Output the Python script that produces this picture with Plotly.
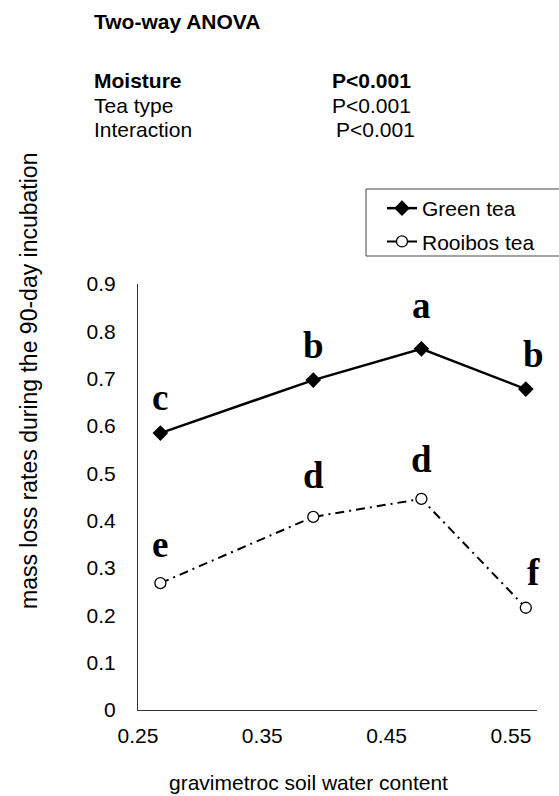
import plotly.graph_objects as go

# ---- data ----
water_content = [0.268, 0.391, 0.478, 0.562]
green_tea = [0.585, 0.697, 0.763, 0.678]
rooibos_tea = [0.268, 0.408, 0.446, 0.216]
green_letters = ["c", "b", "a", "b"]
rooibos_letters = ["e", "d", "d", "f"]
x_ticks = [0.25, 0.35, 0.45, 0.55]
y_ticks = [0, 0.1, 0.2, 0.3, 0.4, 0.5, 0.6, 0.7, 0.8, 0.9]
anova_terms = ["Moisture", "Tea type", "Interaction"]
anova_p = ["P<0.001", "P<0.001", "P<0.001"]

W, H = 559, 796
L, R, T, B = 138, 22, 284, 86
PW, PH = W - L - R, H - T - B


def px(xp):
    return (xp - L) / PW


def py(yp):
    return (H - B - yp) / PH


FONT = "Liberation Sans, Arial, sans-serif"
SERIF = "Liberation Serif, Times New Roman, serif"

fig = go.Figure()
fig.add_trace(go.Scatter(
    x=water_content, y=green_tea, name="Green tea", mode="lines+markers",
    line=dict(color="black", width=2.5),
    marker=dict(symbol="diamond", size=12, color="black"),
    legendgroup="g1",
))
fig.add_trace(go.Scatter(
    x=water_content, y=rooibos_tea, name="Rooibos tea", mode="lines+markers",
    line=dict(color="black", width=2, dash="9px,5px,2px,5px"),
    marker=dict(symbol="circle", size=11, color="white", line=dict(width=1.3, color="black")),
    legendgroup="g2",
))

annotations = []
# significance letters
shifts_g = [(0, 13), (0, 12), (0, 21), (8, 12)]
shifts_r = [(0, 16), (0, 19), (0, 17), (8, 13)]
for xv, yv, t, (dx, dy) in zip(water_content, green_tea, green_letters, shifts_g):
    annotations.append(dict(x=xv, y=yv, xref="x", yref="y", text=t, showarrow=False,
                            xshift=dx, yshift=dy, yanchor="bottom",
                            font=dict(family=SERIF, size=37, color="black", weight="bold")))
for xv, yv, t, (dx, dy) in zip(water_content, rooibos_tea, rooibos_letters, shifts_r):
    annotations.append(dict(x=xv, y=yv, xref="x", yref="y", text=t, showarrow=False,
                            xshift=dx, yshift=dy, yanchor="bottom",
                            font=dict(family=SERIF, size=37, color="black", weight="bold")))

# ANOVA text block
annotations.append(dict(x=px(92), y=py(21), xref="paper", yref="paper", text="<b>Two-way ANOVA</b>",
                        showarrow=False, xanchor="left", yanchor="middle",
                        font=dict(family=FONT, size=21, color="black")))
rows_y = [80, 105, 130]
p_x = [330, 330, 334]
for i, (term, p) in enumerate(zip(anova_terms, anova_p)):
    tt = f"<b>{term}</b>" if i == 0 else term
    pp = f"<b>{p}</b>" if i == 0 else p
    annotations.append(dict(x=px(92), y=py(rows_y[i]), xref="paper", yref="paper", text=tt,
                            showarrow=False, xanchor="left", yanchor="middle",
                            font=dict(family=FONT, size=21, color="black")))
    annotations.append(dict(x=px(p_x[i]), y=py(rows_y[i]), xref="paper", yref="paper", text=pp,
                            showarrow=False, xanchor="left", yanchor="middle",
                            font=dict(family=FONT, size=21, color="black")))

# axis titles
annotations.append(dict(x=px(29), y=py(381), xref="paper", yref="paper",
                        text="mass loss rates during the 90-day incubation", textangle=-90,
                        showarrow=False, xanchor="center", yanchor="middle",
                        font=dict(family=FONT, size=23, color="black")))
annotations.append(dict(x=px(308), y=py(782), xref="paper", yref="paper",
                        text="gravimetroc soil water content",
                        showarrow=False, xanchor="center", yanchor="middle",
                        font=dict(family=FONT, size=21, color="black")))

shapes = [dict(type="rect", xref="paper", yref="paper", x0=px(366), x1=px(700),
               y0=py(256), y1=py(189), line=dict(color="#444", width=1), fillcolor="rgba(0,0,0,0)")]

fig.update_layout(
    width=W, height=H,
    margin=dict(l=L, r=R, t=T, b=B, pad=0),
    paper_bgcolor="white", plot_bgcolor="white",
    showlegend=True,
    legend=dict(x=px(382), y=py(188), xanchor="left", yanchor="top",
                font=dict(family=FONT, size=21, color="black"),
                bgcolor="rgba(0,0,0,0)", borderwidth=0,
                traceorder="grouped", tracegroupgap=3, itemwidth=30),
    annotations=annotations,
    shapes=shapes,
    xaxis=dict(range=[0.25, 0.571], tickvals=x_ticks, ticktext=[f"{v:.2f}" for v in x_ticks],
               showgrid=False, zeroline=False, showline=True, linecolor="#333", linewidth=1,
               ticks="", ticklabelstandoff=7,
               tickfont=dict(family=FONT, size=21, color="black")),
    yaxis=dict(range=[0, 0.9], tickvals=y_ticks, ticktext=["0"] + [f"{v:.1f}" for v in y_ticks[1:]],
               showgrid=False, zeroline=False, showline=True, linecolor="#333", linewidth=1,
               ticks="", ticklabelstandoff=17,
               tickfont=dict(family=FONT, size=21, color="black")),
)

fig.write_html("out.html")
